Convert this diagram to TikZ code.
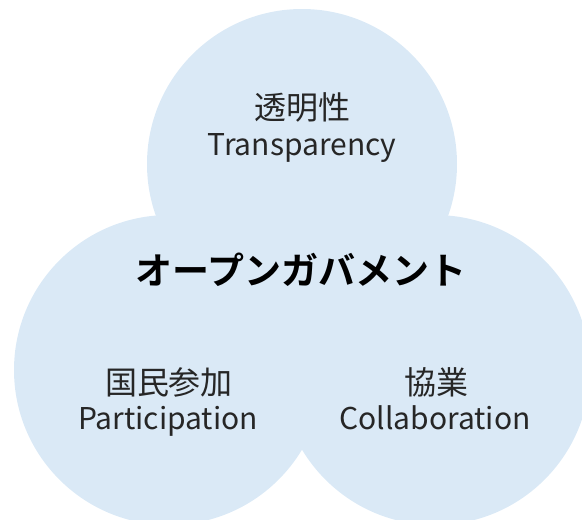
\documentclass[tikz,border=0pt]{standalone}
\usepackage{fontspec}
\newfontfamily\cjk{Noto Sans CJK JP}[BoldFont={Noto Sans CJK JP Bold}]
\definecolor{circfill}{RGB}{218,233,246}
\definecolor{labeltext}{RGB}{38,38,38}
\tikzset{
  circ/.style={fill=circfill, draw=none},
  jp/.style={font=\cjk\fontsize{32}{36}\selectfont, text=labeltext, anchor=base, inner sep=0pt},
  en/.style={font=\cjk\fontsize{30}{36}\selectfont, text=labeltext, anchor=base, inner sep=0pt},
  ttl/.style={font=\cjk\bfseries\fontsize{37}{40}\selectfont, text=black, anchor=center, inner sep=0pt}
}
\begin{document}
\begin{tikzpicture}[x=1pt,y=-1pt]
\useasboundingbox (0,0) rectangle (582,520);
\begin{scope}
\clip (0,0) rectangle (582,520);
\fill[circ] (302,164) circle (155);
\fill[circ] (169,370) circle (155);
\fill[circ] (435,370) circle (155);
\end{scope}
\node[jp] (topjp) at (302,119) {透明性};
\node[en] (topen) at (302,155) {Transparency};
\node[jp] (leftjp) at (169,394) {国民参加};
\node[en] (leften) at (168,429) {Participation};
\node[jp] (rightjp) at (436,394) {協業};
\node[en] (righten) at (435,429) {Collaboration};
\node[ttl] (title) at (301,270) {オープンガバメント};
\end{tikzpicture}
\end{document}
